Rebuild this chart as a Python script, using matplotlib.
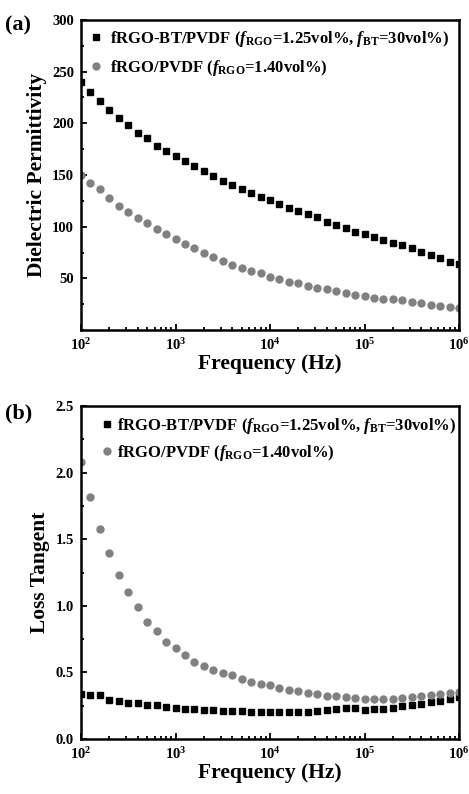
import numpy as np
import matplotlib
matplotlib.use("Agg")
import matplotlib.pyplot as plt
from matplotlib.ticker import LogLocator, MultipleLocator, LogFormatterMathtext, NullFormatter

plt.rcParams['font.family'] = ['Liberation Serif', 'DejaVu Serif']
plt.rcParams['font.weight'] = 'bold'
plt.rcParams['mathtext.fontset'] = 'custom'
plt.rcParams['mathtext.rm'] = 'Liberation Serif:bold'
plt.rcParams['mathtext.it'] = 'Liberation Serif:italic:bold'
plt.rcParams['mathtext.bf'] = 'Liberation Serif:bold'

# Frequency (Hz)
freq = [1.00e2, 1.26e2, 1.58e2, 2.00e2, 2.51e2, 3.16e2, 3.98e2, 5.01e2, 6.31e2, 7.94e2,
        1.00e3, 1.26e3, 1.58e3, 2.00e3, 2.51e3, 3.16e3, 3.98e3, 5.01e3, 6.31e3, 7.94e3,
        1.00e4, 1.26e4, 1.58e4, 2.00e4, 2.51e4, 3.16e4, 3.98e4, 5.01e4, 6.31e4, 7.94e4,
        1.00e5, 1.26e5, 1.58e5, 2.00e5, 2.51e5, 3.16e5, 3.98e5, 5.01e5, 6.31e5, 7.94e5,
        1.00e6]

# (a) Dielectric permittivity
perm_bt = [240, 230, 221.5, 213, 205.5, 198.5, 191, 186, 178.5, 173.5,
           168, 163.5, 158.3, 153.5, 149, 144.3, 140, 136.5, 133, 129,
           125.5, 122, 118.5, 115.5, 112.5, 109, 104.5, 102, 98.4, 94.5,
           93.2, 90.3, 87.4, 84.5, 82, 79, 75.5, 72.9, 69.4, 66.1,
           63.6]
perm_go = [150, 142.6, 136, 127.5, 120, 114.2, 108, 103.3, 97.5, 92.6,
           87.8, 83, 79, 74.2, 70.4, 66.8, 62.9, 60.3, 57.1, 54.9,
           51.6, 49, 46.8, 45.2, 42.9, 40.3, 39.4, 37.8, 35.5, 34.2,
           32.9, 31.3, 30, 29.7, 28.7, 27.4, 26.1, 24.5, 23.2, 22.6,
           21.3]

# (b) Loss tangent
tan_bt = [0.34, 0.332, 0.327, 0.295, 0.282, 0.27, 0.27, 0.254, 0.252, 0.237,
          0.229, 0.227, 0.222, 0.217, 0.214, 0.211, 0.211, 0.211, 0.206, 0.204,
          0.206, 0.206, 0.206, 0.206, 0.206, 0.211, 0.214, 0.224, 0.229, 0.232,
          0.214, 0.222, 0.227, 0.232, 0.244, 0.252, 0.262, 0.277, 0.287, 0.300,
          0.315]
tan_go = [2.08, 1.82, 1.58, 1.40, 1.23, 1.10, 0.99, 0.88, 0.81, 0.73,
          0.68, 0.63, 0.58, 0.55, 0.52, 0.495, 0.478, 0.453, 0.43, 0.415,
          0.403, 0.383, 0.37, 0.357, 0.345, 0.337, 0.325, 0.32, 0.312, 0.305,
          0.302, 0.30, 0.30, 0.302, 0.307, 0.315, 0.32, 0.33, 0.337, 0.342,
          0.35]

label_bt = r'fRGO-BT/PVDF ($\mathit{f}_{\mathrm{RGO}}$=1.25vol%, $\mathit{f}_{\mathrm{BT}}$=30vol%)'
label_go = r'fRGO/PVDF ($\mathit{f}_{\mathrm{RGO}}$=1.40vol%)'

W, H = 469, 794
fig = plt.figure(figsize=(W / 100, H / 100), dpi=100)

def px_axes(left, top, right, bottom):
    return fig.add_axes([left / W, 1 - bottom / H, (right - left) / W, (bottom - top) / H])

ax1 = px_axes(81, 20, 459, 330)
ax2 = px_axes(81, 406, 459, 739)

gray = '#808080'

def style(ax, ymax, major, minor):
    ax.set_xscale('log')
    ax.set_xlim(1e2, 1e6)
    ax.set_ylim(0, ymax)
    ax.xaxis.set_major_locator(LogLocator(base=10))
    ax.xaxis.set_minor_locator(LogLocator(base=10, subs=np.arange(2, 10)))
    ax.xaxis.set_major_formatter(LogFormatterMathtext())
    ax.xaxis.set_minor_formatter(NullFormatter())
    ax.yaxis.set_major_locator(MultipleLocator(major))
    ax.yaxis.set_minor_locator(MultipleLocator(minor))
    ax.tick_params(which='both', direction='in', top=False, right=False, width=1.3)
    ax.tick_params(which='major', length=4, labelsize=10.5, pad=5)
    ax.tick_params(which='minor', length=2.5)
    for s in ax.spines.values():
        s.set_linewidth(1.8)
    for lab in ax.get_yticklabels() + ax.get_xticklabels():
        lab.set_fontweight('bold')
    ax.set_xlabel('Frequency (Hz)', fontsize=15.5, fontweight='bold', labelpad=1)

# Panel (a)
ax1.plot(freq, perm_bt, 's', color='black', ms=4.3, label=label_bt)
ax1.plot(freq, perm_go, 'o', color=gray, ms=5, label=label_go)
style(ax1, 300, 50, 25)
ax1.set_yticks([50, 100, 150, 200, 250, 300])
ax1.set_ylabel('Dielectric Permittivity', fontsize=15.5, fontweight='bold', labelpad=4)
leg1 = ax1.legend(loc='upper left', bbox_to_anchor=(0.0, 1.0), frameon=False,
                  fontsize=12, handlelength=0.7, handletextpad=0.5,
                  labelspacing=0.5, borderaxespad=0.25, borderpad=0.3)
fig.text(5 / W, 1 - 25 / H, '(a)', fontsize=16, fontweight='bold', va='center', ha='left')

# Panel (b)
ax2.plot(freq, tan_bt, 's', color='black', ms=4.3, label=label_bt)
ax2.plot(freq, tan_go, 'o', color=gray, ms=5, label=label_go)
style(ax2, 2.5, 0.5, 0.25)
ax2.set_ylabel('Loss Tangent', fontsize=15.5, fontweight='bold', labelpad=4)
leg2 = ax2.legend(loc='upper left', bbox_to_anchor=(0.03, 1.0), frameon=False,
                  fontsize=12, handlelength=0.5, handletextpad=0.4,
                  labelspacing=0.4, borderaxespad=0.3, borderpad=0.3)
fig.text(5 / W, 1 - 413 / H, '(b)', fontsize=16, fontweight='bold', va='center', ha='left')

fig.savefig('out.png', dpi=100)
